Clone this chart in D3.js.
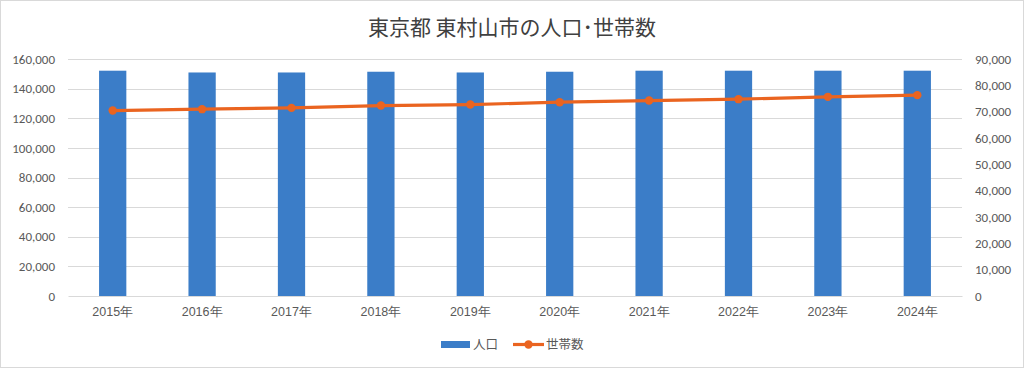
<!DOCTYPE html>
<html><head><meta charset="utf-8">
<script src="https://cdn.jsdelivr.net/npm/d3@7"></script>
<style>
html,body{margin:0;padding:0;background:#fff;}
svg{display:block;font-family:"Noto Sans CJK JP","Noto Sans",sans-serif;}
</style></head>
<body>
<svg id="chart" width="1024" height="368"></svg>
<script>
const title = "東京都 東村山市の人口･世帯数";
const years = ["2015年","2016年","2017年","2018年","2019年","2020年","2021年","2022年","2023年","2024年"];
const population = [152100, 150900, 150900, 151400, 150900, 151400, 152100, 152100, 152100, 152100];
const households = [70420, 70950, 71450, 72330, 72700, 73600, 74230, 74750, 75630, 76280];
const leftTicks = [0,20000,40000,60000,80000,100000,120000,140000,160000];
const rightTicks = [0,10000,20000,30000,40000,50000,60000,70000,80000,90000];
const seriesNames = ["人口","世帯数"];

const svg = d3.select("#chart");
const W = 1024, H = 368;
const m = {left:68, right:62, top:59, bottom:72};
const blue = "#3B7DC8", orange = "#EA6420", textCol = "#595959", grid = "#d9d9d9";

svg.append("rect").attr("x",0.5).attr("y",0.5).attr("width",W-1).attr("height",H-1)
  .attr("fill","#fff").attr("stroke","#d9d9d9");

const x = d3.scaleBand().domain(years).range([m.left, W-m.right]).paddingInner(0.695).paddingOuter(0.3475);
const yL = d3.scaleLinear().domain([0,160000]).range([H-m.bottom, m.top]);
const yR = d3.scaleLinear().domain([0,90000]).range([H-m.bottom, m.top]);
const fmt = d3.format(",");

// gridlines
svg.append("g").selectAll("line").data(leftTicks.filter(d=>d>0)).join("line")
  .attr("x1",m.left).attr("x2",W-m.right)
  .attr("y1",d=>Math.round(yL(d))+0.5).attr("y2",d=>Math.round(yL(d))+0.5)
  .attr("stroke",grid).attr("stroke-width",1);

// left axis
const axL = svg.append("g").attr("transform",`translate(${m.left},0)`)
  .call(d3.axisLeft(yL).tickValues(leftTicks).tickFormat(fmt).tickSize(0).tickPadding(13));
axL.select(".domain").remove();
axL.selectAll("text").attr("fill",textCol).style("font-size","13px").style("font-family","Calibri,Carlito,'Liberation Sans',sans-serif");

// right axis
const axR = svg.append("g").attr("transform",`translate(${W-m.right},0)`)
  .call(d3.axisRight(yR).tickValues(rightTicks).tickFormat(fmt).tickSize(0).tickPadding(13));
axR.select(".domain").remove();
axR.selectAll("text").attr("fill",textCol).style("font-size","13px").style("font-family","Calibri,Carlito,'Liberation Sans',sans-serif");

// bars
svg.append("g").selectAll("rect").data(years).join("rect")
  .attr("x",d=>x(d)).attr("width",x.bandwidth())
  .attr("y",(d,i)=>yL(population[i])).attr("height",(d,i)=>yL(0)-yL(population[i]))
  .attr("fill",blue);

// x axis
const axX = svg.append("g").attr("transform",`translate(0,${H-m.bottom})`)
  .call(d3.axisBottom(x).tickSize(0).tickPadding(11));
axX.select(".domain").attr("stroke",grid);
axX.selectAll("text").attr("fill",textCol).style("font-size","12.5px");

// line
const cx = d => x(d)+x.bandwidth()/2;
svg.append("path").datum(years)
  .attr("d", d3.line().x(d=>cx(d)).y((d,i)=>yR(households[i])))
  .attr("fill","none").attr("stroke",orange).attr("stroke-width",3.2).attr("stroke-linejoin","round");
svg.append("g").selectAll("circle").data(years).join("circle")
  .attr("cx",cx).attr("cy",(d,i)=>yR(households[i])).attr("r",4.2).attr("fill",orange);

// title
svg.append("text").attr("x",W/2).attr("y",35).attr("text-anchor","middle")
  .attr("fill","#404040").style("font-size","21px").text(title);

// legend
const lg = svg.append("g");
lg.append("rect").attr("x",441).attr("y",341).attr("width",29).attr("height",7).attr("fill",blue);
lg.append("text").attr("x",473).attr("y",349).attr("fill",textCol).style("font-size","12.5px").text(seriesNames[0]);
lg.append("line").attr("x1",513).attr("x2",544).attr("y1",344.5).attr("y2",344.5).attr("stroke",orange).attr("stroke-width",3.2);
lg.append("circle").attr("cx",528.5).attr("cy",344.5).attr("r",4.2).attr("fill",orange);
lg.append("text").attr("x",546).attr("y",349).attr("fill",textCol).style("font-size","12.5px").text(seriesNames[1]);
</script>
</body></html>
